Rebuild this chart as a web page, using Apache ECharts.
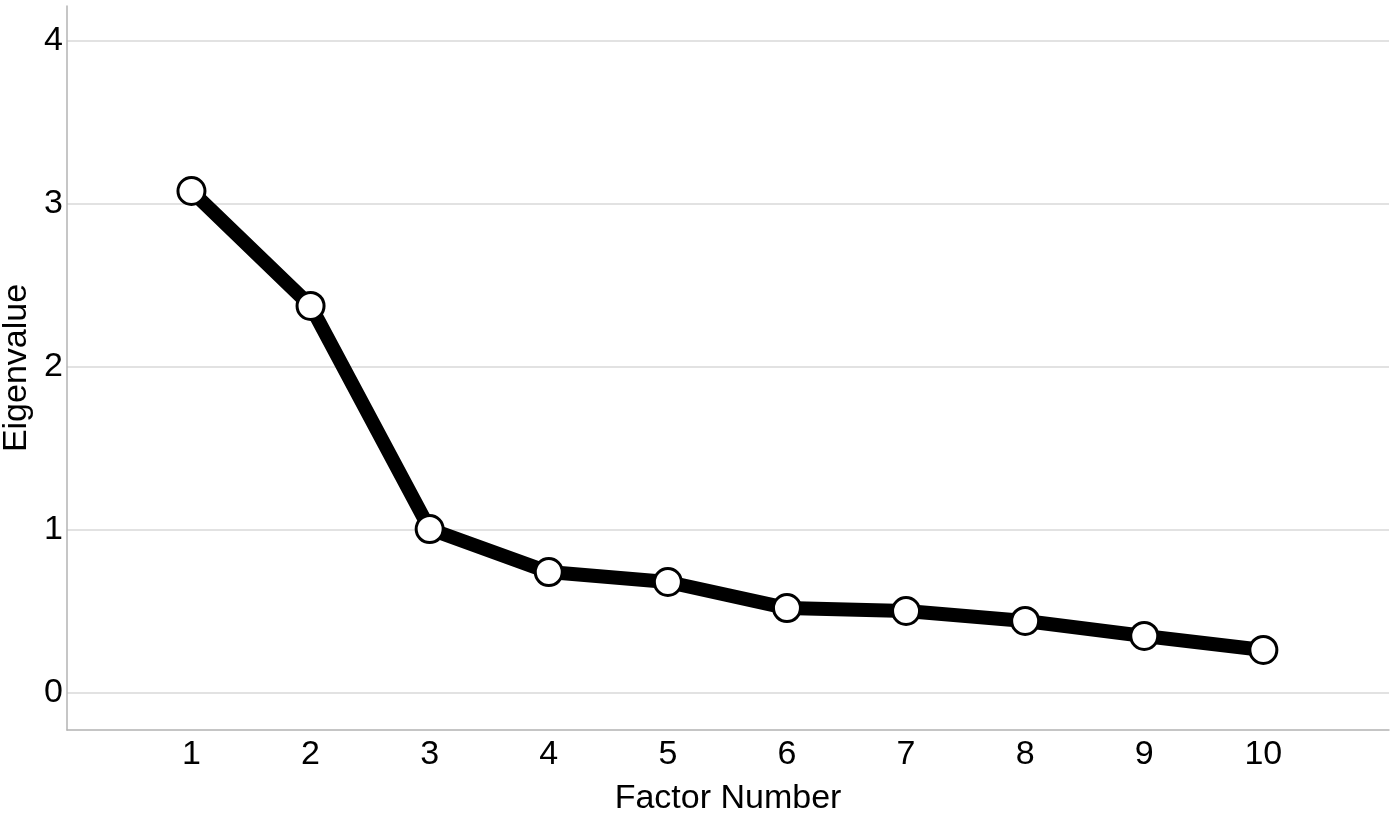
<!DOCTYPE html>
<html><head><meta charset="utf-8">
<script src="https://cdn.jsdelivr.net/npm/echarts@6/dist/echarts.min.js"></script>
<style>html,body{margin:0;padding:0;background:#fff}#c{width:1395px;height:819px}</style>
</head><body><div id="c"></div>
<script>
const factors = [1, 2, 3, 4, 5, 6, 7, 8, 9, 10];
const eigenvalues = [3.08, 2.375, 1.006, 0.742, 0.681, 0.521, 0.503, 0.442, 0.350, 0.264];
const yTicks = [0, 1, 2, 3, 4];
const xTicks = factors;

const chart = echarts.init(document.getElementById('c'), null, {renderer: 'canvas'});
const font = '"Liberation Sans", Arial, sans-serif';
chart.setOption({
  animation: false,
  backgroundColor: '#fff',
  grid: {left: 67, right: 6, top: 6, bottom: 89, containLabel: false, outerBoundsMode: 'none'},
  xAxis: {
    type: 'value', min: -0.045, max: 11.055,
    name: 'Factor Number', nameLocation: 'middle', nameGap: 52,
    nameTextStyle: {fontFamily: font, fontSize: 34, color: '#000'},
    axisLine: {show: true, onZero: false, lineStyle: {color: '#b3b3b3', width: 1.5}},
    axisTick: {show: false, customValues: xTicks},
    axisLabel: {customValues: xTicks, fontFamily: font, fontSize: 34, color: '#000', margin: 8},
    splitLine: {show: false}
  },
  yAxis: {
    type: 'value', min: -0.227, max: 4.215,
    name: 'Eigenvalue', nameLocation: 'middle', nameGap: 33, nameMoveOverlap: false,
    nameTextStyle: {fontFamily: font, fontSize: 34, color: '#000'},
    axisLine: {show: true, onZero: false, lineStyle: {color: '#b3b3b3', width: 1.5}},
    axisTick: {show: false, customValues: yTicks},
    axisLabel: {customValues: yTicks, fontFamily: font, fontSize: 34, color: '#000', margin: 4},
    splitLine: {show: true, lineStyle: {color: '#d9d9d9', width: 1.5}}
  },
  series: [{
    type: 'line',
    data: factors.map((f, i) => [f, eigenvalues[i]]),
    lineStyle: {color: '#000', width: 14},
    symbol: 'circle', symbolSize: 27,
    itemStyle: {color: '#fff', borderColor: '#000', borderWidth: 3},
    z: 3
  }]
});
</script></body></html>
